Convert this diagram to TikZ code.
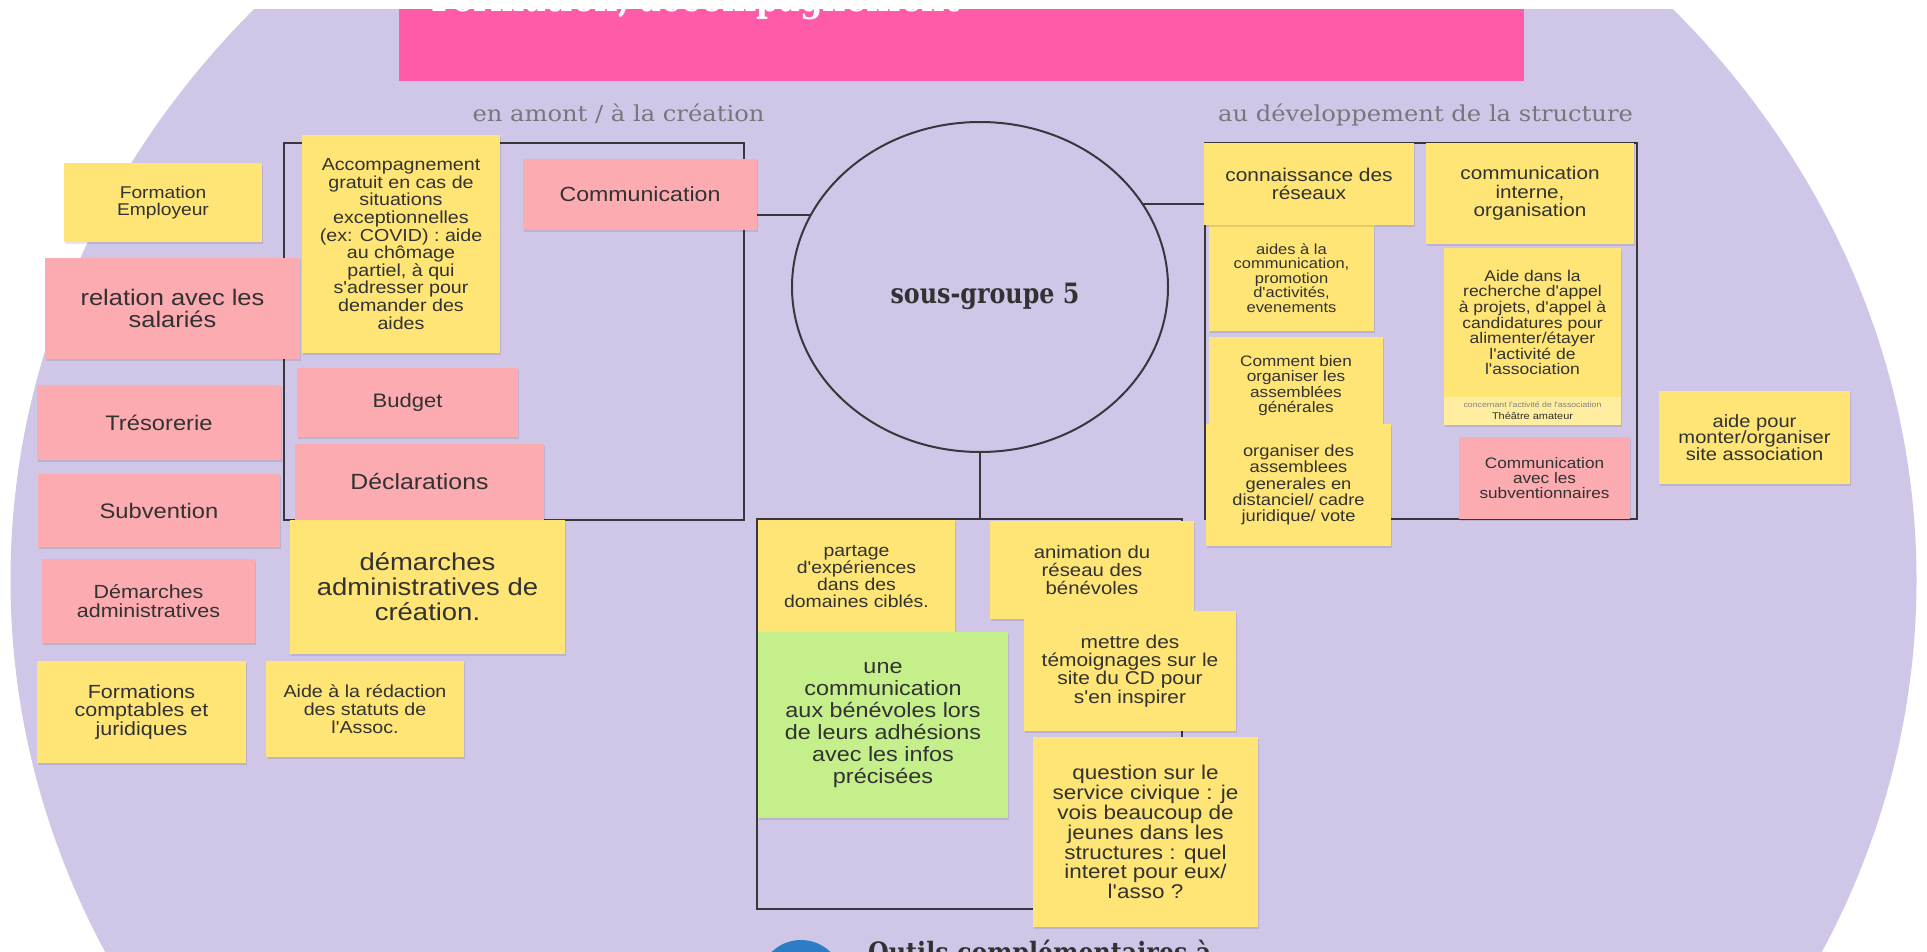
\documentclass[tikz,border=0pt]{standalone}
\usepackage{fontspec}
\setmainfont{Liberation Sans}
\newfontfamily\notefont[FakeStretch=1.13,Ligatures=TeXOff]{Liberation Sans}
\newfontfamily\slabfont[FakeStretch=0.85]{DejaVu Serif}
\newfontfamily\hdrfont[FakeStretch=1.1]{DejaVu Serif}
\usetikzlibrary{shapes.geometric,shadows}
\definecolor{bgpurple}{RGB}{208,199,232}
\definecolor{barpink}{RGB}{255,91,168}
\definecolor{noteyellow}{RGB}{254,229,118}
\definecolor{notepink}{RGB}{252,171,176}
\definecolor{notegreen}{RGB}{197,239,139}
\definecolor{stripyellow}{RGB}{255,237,160}
\definecolor{notetext}{RGB}{50,50,50}
\definecolor{framegray}{RGB}{55,55,60}
\definecolor{hdrgray}{RGB}{120,118,124}
\definecolor{stripgray}{RGB}{130,130,130}
\definecolor{blueicon}{RGB}{44,125,196}
\tikzset{
  sticky/.style={inner sep=0pt, align=center, text=notetext,
    general shadow={fill=black, opacity=0.10, shadow xshift=1pt, shadow yshift=-2pt}},
  yel/.style={sticky, fill=noteyellow},
  pnk/.style={sticky, fill=notepink},
  grn/.style={sticky, fill=notegreen},
  sz/.style 2 args={minimum width=#1pt, minimum height=#2pt},
  fs/.style 2 args={font=\notefont\fontsize{#1}{#2}\selectfont},
  grpframe/.style={draw=framegray, line width=2pt, inner sep=0pt},
  conn/.style={draw=framegray, line width=2pt},
  hdr/.style={anchor=base, text=hdrgray, inner sep=0pt, font=\hdrfont\fontsize{22}{22}\selectfont},
}
\begin{document}
\begin{tikzpicture}[x=1pt,y=-1pt]
\useasboundingbox (0,0) rectangle (1927,952);
\fill[white] (0,0) rectangle (1927,952);
\begin{scope}
\clip (0,9.5) rectangle (1927,952);
% big background ellipse
\fill[bgpurple] (963.5,580) ellipse [x radius=953pt, y radius=855pt];
% header bar
\fill[barpink] (399,-20) rectangle (1524,81);
\node[anchor=base west, text=white, inner sep=0pt, font=\slabfont\bfseries\fontsize{38}{38}\selectfont] (title) at (431,12) {Formation, accompagnement};
% section headings
\node[hdr] (h1) at (618.5,122) {en amont / à la création};
\node[hdr] (h2) at (1425.5,122) {au développement de la structure};
% group frames
\node[grpframe, minimum width=460pt, minimum height=377pt] (lf) at (514,331.5) {};
\node[grpframe, minimum width=432pt, minimum height=376pt] (rf) at (1421,331) {};
\node[grpframe, minimum width=425pt, minimum height=390pt] (bf) at (969.5,714) {};
% central ellipse
\node[draw=framegray, line width=2pt, ellipse, minimum width=376pt, minimum height=330pt, inner sep=0pt] (sg) at (980,287) {};
\node[anchor=base, text=notetext, inner sep=0pt, font=\slabfont\bfseries\fontsize{28}{28}\selectfont] (sgt) at (985,303) {sous-groupe 5};
% connectors
\draw[conn] (sg.157) -- (sg.157 -| lf.east);
\draw[conn] (sg.27) -- (sg.27 -| rf.west);
\draw[conn] (sg.south) -- (sg.south |- bf.north);
% left group
\node[yel, sz={198}{79}, fs={17}{17.5}] (n1) at (163,202.5) {Formation\\Employeur};
\node[pnk, sz={255}{101}, fs={22.5}{22.5}] (n2) at (172.5,308.5) {relation avec les\\salariés};
\node[pnk, sz={244}{75}, fs={21}{21}] (n3) at (159,422.5) {Trésorerie};
\node[pnk, sz={242}{73}, fs={21}{21}] (n4) at (159,510.5) {Subvention};
\node[pnk, sz={213}{84}, fs={19}{18.4}] (n5) at (148.5,601) {Démarches\\administratives};
\node[yel, sz={209}{102}, fs={19}{18.4}] (n6) at (141.5,712) {Formations\\comptables et\\juridiques};
\node[yel, sz={198}{96}, fs={17.4}{17.8}] (n7) at (365,709) {Aide à la rédaction\\des statuts de\\l'Assoc.};
\node[yel, sz={198}{218}, fs={17.4}{17.6}] (n8) at (401,244) {Accompagnement\\gratuit en cas de\\situations\\exceptionnelles\\(ex: COVID) : aide\\au chômage\\partiel, à qui\\s'adresser pour\\demander des\\aides};
\node[pnk, sz={221}{69}, fs={19.5}{19.5}] (n9) at (407.5,402.5) {Budget};
\node[pnk, sz={249}{76}, fs={22}{22}] (n10) at (419.5,482) {Déclarations};
\node[yel, sz={275}{134}, fs={24.3}{25}] (n11) at (427.5,587) {démarches\\administratives de\\création.};
\node[pnk, sz={234}{71}, fs={20.5}{20.5}] (n12) at (640,194.5) {Communication};
% right group
\node[yel, sz={165}{106}, fs={14.6}{14.5}] (n15) at (1291.5,278) {aides à la\\communication,\\promotion\\d'activités,\\evenements};
\node[yel, sz={210}{82}, fs={18.5}{17.7}] (n13) at (1309,184) {connaissance des\\réseaux};
\node[yel, sz={208}{101}, fs={18.3}{18.3}] (n14) at (1530,193.5) {communication\\interne,\\organisation};
\node[yel, sz={174}{97}, fs={15.2}{15.5}] (n16) at (1296,385.5) {Comment bien\\organiser les\\assemblées\\générales};
\node[yel, sz={185}{122}, fs={16.2}{16.2}] (n17) at (1298.5,485) {organiser des\\assemblees\\generales en\\distanciel/ cadre\\juridique/ vote};
\node[yel, sz={177}{149}, fs={15.5}{15.6}] (n18) at (1532.5,322.5) {Aide dans la\\recherche d'appel\\à projets, d'appel à\\candidatures pour\\alimenter/étayer\\l'activité de\\l'association};
\node[fill=stripyellow, inner sep=0pt, minimum width=177pt, minimum height=28pt,
  general shadow={fill=black, opacity=0.10, shadow xshift=1pt, shadow yshift=-2pt}] (n18s) at (1532.5,411) {};
\node[inner sep=0pt, text=stripgray, font=\notefont\fontsize{7.7}{8}\selectfont] (n18a) at (1532.5,405) {concernant l'activité de l'association};
\node[inner sep=0pt, text=notetext, font=\notefont\fontsize{9.7}{10}\selectfont] (n18b) at (1532.5,416) {Théâtre amateur};
\node[pnk, sz={171}{82}, fs={15.2}{15.3}] (n19) at (1544.5,478) {Communication\\avec les\\subventionnaires};
\node[yel, sz={191}{93}, fs={17.8}{16.7}] (n20) at (1754.5,437.5) {aide pour\\monter/organiser\\site association};
% bottom group
\node[yel, sz={197}{113}, fs={17.2}{17.2}] (n21) at (856.5,576.5) {partage\\d'expériences\\dans des\\domaines ciblés.};
\node[yel, sz={204}{98}, fs={18}{18}] (n22) at (1092,570) {animation du\\réseau des\\bénévoles};
\node[grn, sz={250}{186}, fs={20.7}{22.1}] (n23) at (883,725) {une\\communication\\aux bénévoles lors\\de leurs adhésions\\avec les infos\\précisées};
\node[yel, sz={212}{120}, fs={18.5}{18.3}] (n24) at (1130,671) {mettre des\\témoignages sur le\\site du CD pour\\s'en inspirer};
\node[yel, sz={225}{190}, fs={19.9}{19.9}] (n25) at (1145.5,832) {question sur le\\service civique : je\\vois beaucoup de\\jeunes dans les\\structures : quel\\interet pour eux/\\l'asso ?};
% bottom, cut-off section start
\fill[blueicon] (801,982) circle[radius=42pt];
\node[anchor=base west, text=notetext, inner sep=0pt, font=\slabfont\bfseries\fontsize{28}{28}\selectfont] (outils) at (868,962) {Outils complémentaires à};
\end{scope}
\end{tikzpicture}
\end{document}
